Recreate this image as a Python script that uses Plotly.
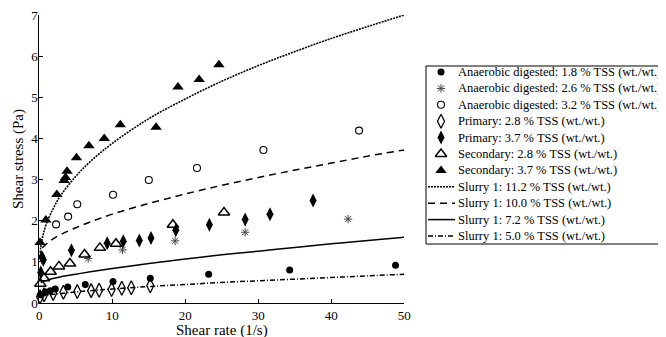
import plotly.graph_objects as go

# ---------------- data ----------------
names = [
    "Anaerobic digested: 1.8 % TSS (wt./wt.)",
    "Anaerobic digested: 2.6 % TSS (wt./wt.)",
    "Anaerobic digested: 3.2 % TSS (wt./wt.)",
    "Primary: 2.8 % TSS (wt./wt.)",
    "Primary: 3.7 % TSS (wt./wt.)",
    "Secondary: 2.8 % TSS (wt./wt.)",
    "Secondary: 3.7 % TSS (wt./wt.)",
    "Slurry 1: 11.2 % TSS (wt./wt.)",
    "Slurry 1: 10.0 % TSS (wt./wt.)",
    "Slurry 1: 7.2 % TSS (wt./wt.)",
    "Slurry 1: 5.0 % TSS (wt./wt.)",
]
x_title = "Shear rate (1/s)"
y_title = "Shear stress (Pa)"

ad18_x = [0.15, 0.9, 1.5, 2.2, 3.9, 6.3, 10.1, 15.2, 23.2, 34.3, 48.8]
ad18_y = [0.20, 0.27, 0.30, 0.34, 0.39, 0.45, 0.52, 0.60, 0.70, 0.80, 0.92]

ad26_x = [6.7, 11.4, 18.6, 28.2, 42.3]
ad26_y = [1.08, 1.29, 1.51, 1.72, 2.04]

ad32_x = [2.3, 3.95, 5.2, 10.1, 15.0, 21.6, 30.7, 43.8]
ad32_y = [1.91, 2.10, 2.40, 2.63, 2.99, 3.28, 3.72, 4.19]

pr28_x = [0.1, 0.65, 1.9, 3.3, 5.2, 7.1, 8.2, 9.9, 11.3, 12.6, 15.2]
pr28_y = [0.15, 0.20, 0.23, 0.26, 0.28, 0.30, 0.31, 0.33, 0.36, 0.37, 0.42]

pr37_x = [0.2, 0.35, 0.55, 4.4, 9.3, 11.5, 13.7, 15.3, 18.7, 23.3, 28.2, 31.6, 37.5]
pr37_y = [0.74, 1.12, 1.05, 1.28, 1.45, 1.50, 1.52, 1.58, 1.77, 1.90, 2.03, 2.16, 2.49]

se28_x = [0.15, 0.65, 1.55, 2.7, 4.2, 6.2, 8.3, 10.5, 18.3, 25.3]
se28_y = [0.47, 0.60, 0.76, 0.89, 0.96, 1.18, 1.34, 1.44, 1.90, 2.20]

se37_x = [0.1, 0.9, 2.4, 3.4, 3.6, 3.8, 5.1, 6.8, 8.9, 11.1, 16.0, 19.0, 21.9, 24.6]
se37_y = [1.47, 2.02, 2.64, 2.98, 3.05, 3.20, 3.53, 3.82, 4.00, 4.33, 4.27, 5.25, 5.43, 5.79]

s112_x = [0.1, 0.2, 0.5, 1, 2, 3, 5, 7, 10, 15, 20, 25, 30, 35, 40, 45, 50]
s112_y = [1.22, 1.36, 1.64, 1.94, 2.33, 2.63, 3.08, 3.44, 3.88, 4.48, 4.96, 5.39, 5.77, 6.11, 6.43, 6.72, 7.00]

s100_x = [0.4, 1, 2, 3, 5, 7, 10, 15, 20, 25, 30, 35, 40, 45, 50]
s100_y = [1.34, 1.44, 1.57, 1.67, 1.83, 1.97, 2.16, 2.42, 2.65, 2.86, 3.05, 3.23, 3.40, 3.57, 3.72]

s72_x = [0.2, 1, 2, 3, 5, 7, 10, 15, 20, 25, 30, 35, 40, 45, 50]
s72_y = [0.50, 0.55, 0.60, 0.64, 0.70, 0.76, 0.84, 0.96, 1.07, 1.17, 1.26, 1.35, 1.44, 1.52, 1.60]

s50_x = [0.2, 1, 2, 3, 5, 7, 10, 15, 20, 25, 30, 35, 40, 45, 50]
s50_y = [0.15, 0.19, 0.21, 0.23, 0.27, 0.30, 0.34, 0.40, 0.45, 0.50, 0.54, 0.58, 0.62, 0.66, 0.70]

x_ticks = [0, 10, 20, 30, 40, 50]
y_ticks = [0, 1, 2, 3, 4, 5, 6, 7]

# ---------------- styling ----------------
OFF = 8                     # page body margin of the html page
W, H = 666 - OFF, 337 - OFF
PX0, PX1 = 39.3 - OFF, 404.3 - OFF      # plot area left/right (px in figure)
PY_TOP, PY_BOT = 15 - OFF, 303 - OFF    # plot area top/bottom (px in figure)
FONT = "Liberation Serif"

marker_series = [
    (ad18_x, ad18_y, dict(symbol="circle", size=7, color="black", line=dict(width=0))),
    (ad26_x, ad26_y, dict(symbol="asterisk-open", size=7, color="#444", line=dict(width=1, color="#444"))),
    (ad32_x, ad32_y, dict(symbol="circle-open", size=7, color="black", line=dict(width=1.1, color="black"))),
    (pr28_x, pr28_y, dict(symbol="diamond-tall-open", size=10, color="black", line=dict(width=1.3, color="black"))),
    (pr37_x, pr37_y, dict(symbol="diamond-tall", size=10, color="black", line=dict(width=0))),
    (se28_x, se28_y, dict(symbol="triangle-up-open", size=10, color="black", line=dict(width=1.5, color="black"))),
    (se37_x, se37_y, dict(symbol="triangle-up", size=10, color="black", line=dict(width=0))),
]
line_series = [
    (s112_x, s112_y, dict(color="black", width=1.6, dash="2px,1px")),
    (s100_x, s100_y, dict(color="black", width=1.5, dash="7px,5px")),
    (s72_x, s72_y, dict(color="black", width=1.5)),
    (s50_x, s50_y, dict(color="black", width=1.5, dash="5px,2px,1px,2px")),
]

fig = go.Figure()

for xs, ys, ln in line_series:
    fig.add_trace(go.Scatter(x=xs, y=ys, mode="lines", line=dict(shape="spline", **ln),
                             showlegend=False, cliponaxis=False, hoverinfo="skip"))
for xs, ys, mk in marker_series:
    fig.add_trace(go.Scatter(x=xs, y=ys, mode="markers", marker=mk,
                             showlegend=False, cliponaxis=False, hoverinfo="skip"))

# ---------------- custom legend (pixel coordinates on hidden axes) ----------------
LEG_X0, LEG_Y0, LEG_Y1 = 426 - OFF, 66 - OFF, 244 - OFF
ROW0, ROW_DY = 72 - OFF, 16.4
SYM_X, TXT_X = 441 - OFF, 456 - OFF
LINE_X0, LINE_X1 = 428 - OFF, 455 - OFF
for i, name in enumerate(names):
    yy = ROW0 + ROW_DY * i
    if i < len(marker_series):
        fig.add_trace(go.Scatter(x=[SYM_X], y=[yy], xaxis="x2", yaxis="y2", mode="markers",
                                 marker=marker_series[i][2], showlegend=False, hoverinfo="skip",
                                 cliponaxis=False))
    else:
        ln = line_series[i - len(marker_series)][2]
        fig.add_trace(go.Scatter(x=[LINE_X0, LINE_X1], y=[yy, yy], xaxis="x2", yaxis="y2",
                                 mode="lines", line=ln, showlegend=False, hoverinfo="skip",
                                 cliponaxis=False))
    fig.add_annotation(x=TXT_X, y=yy, xref="x2", yref="y2", text=name, showarrow=False,
                       xanchor="left", yanchor="middle",
                       font=dict(family=FONT, size=12.5, color="black"))

fig.add_shape(type="rect", xref="x2", yref="y2", x0=LEG_X0, x1=W + 4, y0=LEG_Y0, y1=LEG_Y1,
              line=dict(color="black", width=1), fillcolor="rgba(0,0,0,0)")

# x-axis title (placed as text below the tick labels)
fig.add_annotation(x=(PX0 + PX1) / 2, y=322, xref="x2", yref="y2", text=x_title,
                   showarrow=False, xanchor="center", yanchor="middle",
                   font=dict(family=FONT, size=15, color="black"))

axis_common = dict(showgrid=False, zeroline=False, showline=True, linecolor="black", linewidth=1,
                   ticks="inside", ticklen=4, tickwidth=1, tickcolor="black", automargin=False,
                   ticklabeloverflow="allow",
                   tickfont=dict(family=FONT, size=13, color="black"))

fig.update_layout(
    width=W, height=H,
    margin=dict(l=0, r=0, t=0, b=0, pad=0),
    paper_bgcolor="white", plot_bgcolor="rgba(0,0,0,0)",
    font=dict(family=FONT, size=13, color="black"),
    xaxis=dict(domain=[PX0 / W, PX1 / W], range=[0, 50], tickvals=x_ticks, **axis_common),
    yaxis=dict(domain=[(H - PY_BOT) / H, (H - PY_TOP) / H], range=[0, 7], tickvals=y_ticks,
               ticklabelstandoff=-2,
               title=dict(text=y_title, font=dict(family=FONT, size=15), standoff=3),
               **axis_common),
    xaxis2=dict(domain=[0, 1], range=[0, W], visible=False, fixedrange=True, anchor="y2",
                automargin=False),
    yaxis2=dict(domain=[0, 1], range=[H, 0], visible=False, fixedrange=True, anchor="x2",
                automargin=False),
)

fig.write_html("out.html")
